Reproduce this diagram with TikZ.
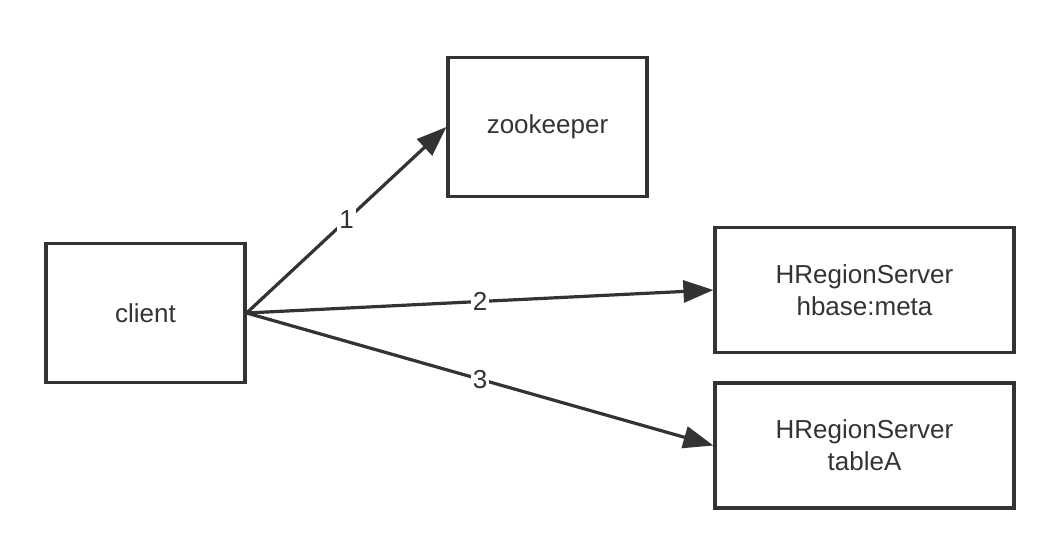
\documentclass[tikz,border=0pt]{standalone}
\usepackage{fontspec}
\setmainfont{Liberation Sans}
\usetikzlibrary{quotes}
\usetikzlibrary{arrows.meta}
\definecolor{ink}{HTML}{333333}
\tikzset{
  box/.style= {draw=ink, line width=1.6pt, text=ink, align=center, font=\fontsize{13}{16}\selectfont},
  small/.style= {minimum width=99.5pt, minimum height=69.5pt},
  wide/.style= {minimum width=149.5pt, minimum height=62.5pt},
  link/.style= {draw=ink, line width=1.6pt, -{Triangle[length=15pt, width=11pt]}},
}

\begin{document}
\begin{tikzpicture}[x=0.5pt, y=0.5pt,
  every edge quotes/.style={fill=white, inner sep=1pt, text=ink, font=\fontsize{13}{16}\selectfont}]
  \useasboundingbox (0,0) rectangle (1046,546);
  \node [box, small] (client) at (145.5,233) {client} ;
  \node [box, small] (zk) at (547.5,419) {zookeeper} ;
  \node [box, wide] (meta) at (864.5,256) {HRegionServer\\hbase:meta} ;
  \node [box, wide] (tabA) at (864.5,100.5) {HRegionServer\\tableA} ;

  \path (client.east) edge [link, "1"] (zk.west)
                      edge [link, "2"] (meta.west)
                      edge [link, "3"] (tabA.west) ;
\end{tikzpicture}
\end{document}
